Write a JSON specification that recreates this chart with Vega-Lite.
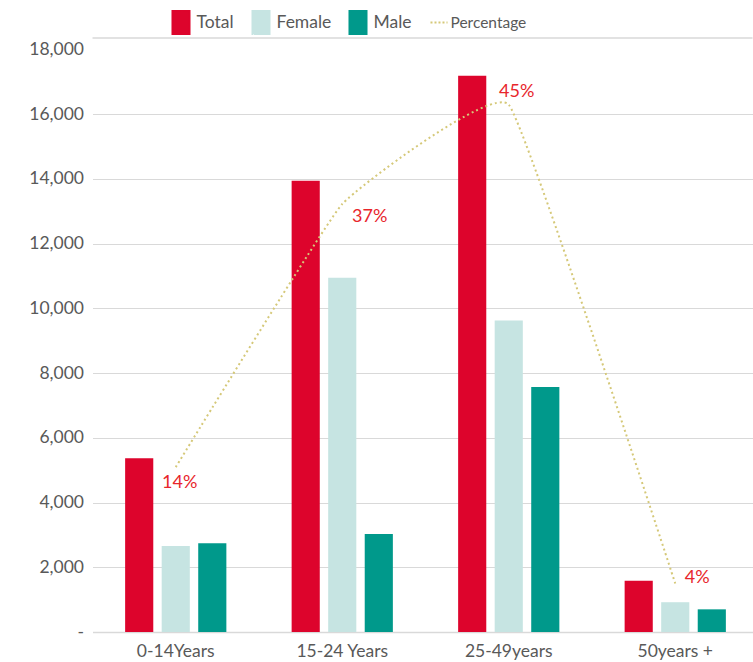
{
  "$schema": "https://vega.github.io/schema/vega-lite/v6.json",
  "autosize": {"type": "none"},
  "width": 660,
  "height": 594,
  "padding": {"left": 92.5, "top": 38, "right": 0.5, "bottom": 30},
  "config": {
    "view": {"stroke": null},
    "font": "Lato",
    "axis": {"labelFont": "Lato", "labelColor": "#595959", "labelFontSize": 17.5}
  },
  "datasets": {
    "bars": [
      {"group": "0-14Years", "series": "Total", "value": 5370},
      {"group": "0-14Years", "series": "Female", "value": 2660},
      {"group": "0-14Years", "series": "Male", "value": 2740},
      {"group": "15-24 Years", "series": "Total", "value": 13940},
      {"group": "15-24 Years", "series": "Female", "value": 10940},
      {"group": "15-24 Years", "series": "Male", "value": 3030},
      {"group": "25-49years", "series": "Total", "value": 17180},
      {"group": "25-49years", "series": "Female", "value": 9620},
      {"group": "25-49years", "series": "Male", "value": 7570},
      {"group": "50years +", "series": "Total", "value": 1580},
      {"group": "50years +", "series": "Female", "value": 920},
      {"group": "50years +", "series": "Male", "value": 700}
    ],
    "pct": [
      {"group": "0-14Years", "pct": 0.141},
      {"group": "15-24 Years", "pct": 0.366},
      {"group": "25-49years", "pct": 0.451},
      {"group": "50years +", "pct": 0.0415}
    ]
  },
  "layer": [
    {
      "data": {"name": "bars"},
      "layer": [
        {
          "mark": {"type": "bar"},
          "encoding": {
            "x": {
              "field": "group", "type": "nominal",
              "sort": ["0-14Years", "15-24 Years", "25-49years", "50years +"],
              "scale": {"range": [0, 666], "paddingInner": 0.392, "paddingOuter": 0.196},
              "axis": {"title": null, "labelAngle": 0, "domain": true, "domainColor": "#d9d9d9", "domainWidth": 1.5, "ticks": false, "labelPadding": 10, "grid": false}
            },
            "xOffset": {
              "field": "series", "type": "nominal",
              "sort": ["Total", "Female", "Male"],
              "scale": {"paddingInner": 0.23, "paddingOuter": 0}
            },
            "y": {
              "field": "value", "type": "quantitative",
              "scale": {"domain": [0, 18350], "nice": false},
              "axis": {
                "title": null,
                "values": [0, 2000, 4000, 6000, 8000, 10000, 12000, 14000, 16000, 18000],
                "labelExpr": "datum.value === 0 ? '-\u00a0\u00a0\u00a0\u00a0\u00a0' : format(datum.value, ',')",
                "gridColor": "#d9d9d9",
                "gridOpacity": {"condition": {"test": "datum.value === 18000", "value": 0}, "value": 1},
                "domain": false, "ticks": false, "labelPadding": 9
              }
            },
            "color": {
              "field": "series", "type": "nominal",
              "scale": {"domain": ["Total", "Female", "Male", "Percentage"], "range": ["#dd042c", "#c6e4e2", "#00998b", "#d5c878"]},
              "legend": {
                "orient": "none", "legendX": 76, "legendY": -28,
                "direction": "horizontal", "title": null, "padding": 0,
                "symbolSize": 529, "labelFontSize": 17.5, "labelColor": "#595959", "labelFont": "Lato",
                "columnPadding": 13, "labelOffset": 3,
                "encode": {
                  "symbols": {"update": {
                    "shape": {"signal": "datum.label === 'Percentage' ? 'M0,-1M-0.74,0H0.74M0,1' : 'M-0.74,-1H0.74V1H-0.74Z'"},
                    "fill": {"signal": "datum.label === 'Percentage' ? 'transparent' : scale('color', datum.value)"},
                    "stroke": {"signal": "datum.label === 'Percentage' ? '#d5c878' : 'transparent'"},
                    "strokeDash": {"signal": "datum.label === 'Percentage' ? [2, 2] : [1, 0]"},
                    "strokeWidth": {"value": 2},
                    "opacity": {"value": 1}
                  }},
                  "labels": {"update": {
                    "fontSize": {"signal": "datum.label === 'Percentage' ? 15.5 : 17.5"},
                    "dx": {"signal": "datum.label === 'Percentage' ? -4 : 0"}
                  }}
                }
              }
            }
          }
        },
        {
          "data": {"values": [{}]},
          "mark": {"type": "rule", "color": "#d9d9d9", "strokeWidth": 1.5},
          "encoding": {"y": {"datum": 18350}}
        }
      ]
    },
    {
      "data": {"name": "pct"},
      "layer": [
        {
          "mark": {"type": "line", "interpolate": "cardinal", "tension": 0.7, "strokeDash": [2, 3], "strokeWidth": 2},
          "encoding": {
            "x": {"field": "group", "type": "nominal", "sort": ["0-14Years", "15-24 Years", "25-49years", "50years +"]},
            "y": {"field": "pct", "type": "quantitative", "scale": {"domain": [0, 0.508], "nice": false}, "axis": null},
            "color": {"datum": "Percentage", "type": "nominal"}
          }
        },
        {
          "transform": [{"filter": "datum.group === '0-14Years'"}],
          "mark": {"type": "text", "dx": 4, "dy": 16, "fontSize": 18, "color": "#e8262c", "font": "Lato"},
          "encoding": {
            "x": {"field": "group", "type": "nominal", "sort": ["0-14Years", "15-24 Years", "25-49years", "50years +"]},
            "y": {"field": "pct", "type": "quantitative", "scale": {"domain": [0, 0.508], "nice": false}, "axis": null},
            "text": {"field": "pct", "type": "quantitative", "format": ".0%"}
          }
        },
        {
          "transform": [{"filter": "datum.group === '15-24 Years'"}],
          "mark": {"type": "text", "dx": 27.5, "dy": 12.7, "fontSize": 18, "color": "#e8262c", "font": "Lato"},
          "encoding": {
            "x": {"field": "group", "type": "nominal", "sort": ["0-14Years", "15-24 Years", "25-49years", "50years +"]},
            "y": {"field": "pct", "type": "quantitative", "scale": {"domain": [0, 0.508], "nice": false}, "axis": null},
            "text": {"field": "pct", "type": "quantitative", "format": ".0%"}
          }
        },
        {
          "transform": [{"filter": "datum.group === '25-49years'"}],
          "mark": {"type": "text", "dx": 8, "dy": -13, "fontSize": 18, "color": "#e8262c", "font": "Lato"},
          "encoding": {
            "x": {"field": "group", "type": "nominal", "sort": ["0-14Years", "15-24 Years", "25-49years", "50years +"]},
            "y": {"field": "pct", "type": "quantitative", "scale": {"domain": [0, 0.508], "nice": false}, "axis": null},
            "text": {"field": "pct", "type": "quantitative", "format": ".0%"}
          }
        },
        {
          "transform": [{"filter": "datum.group === '50years +'"}],
          "mark": {"type": "text", "dx": 22, "dy": -5.5, "fontSize": 18, "color": "#e8262c", "font": "Lato"},
          "encoding": {
            "x": {"field": "group", "type": "nominal", "sort": ["0-14Years", "15-24 Years", "25-49years", "50years +"]},
            "y": {"field": "pct", "type": "quantitative", "scale": {"domain": [0, 0.508], "nice": false}, "axis": null},
            "text": {"field": "pct", "type": "quantitative", "format": ".0%"}
          }
        }
      ]
    }
  ],
  "resolve": {"scale": {"y": "independent"}}
}
